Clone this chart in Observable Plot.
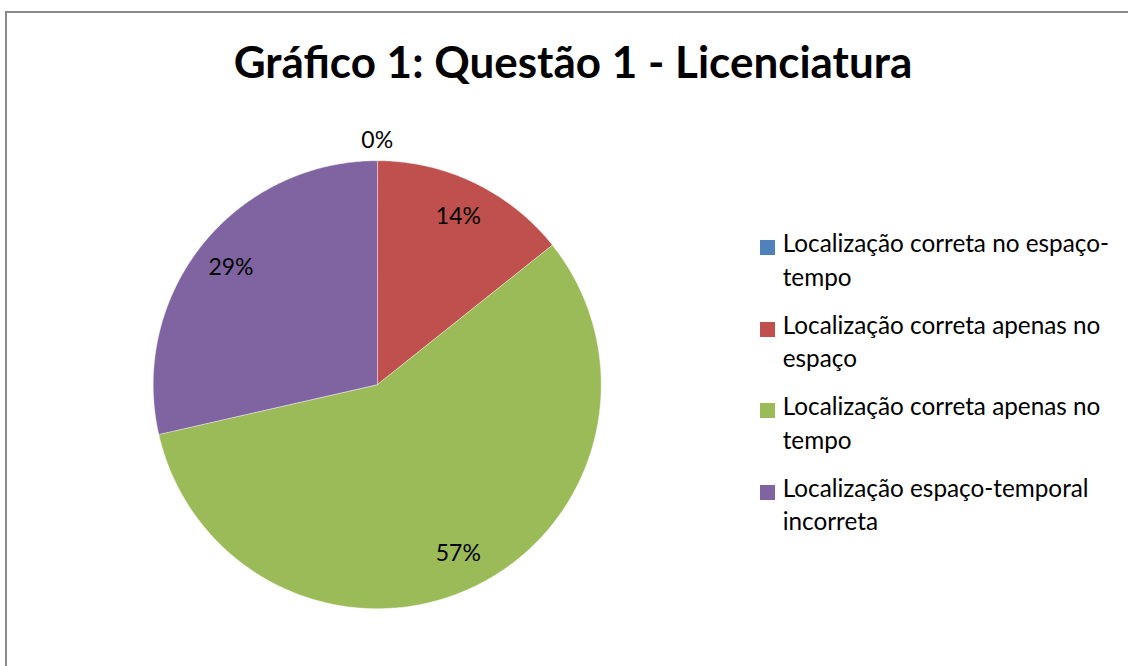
<!DOCTYPE html>
<html><head><meta charset="utf-8">
<script src="https://cdn.jsdelivr.net/npm/d3@7"></script>
<script src="https://cdn.jsdelivr.net/npm/@observablehq/plot@0.6"></script>
<style>
html,body{margin:0;padding:0;background:#fff;overflow:hidden;}
#chart{position:relative;width:1128px;height:666px;overflow:hidden;font-family:Lato,"Open Sans",sans-serif;color:#000;}
#frame{position:absolute;left:5px;top:11px;width:1200px;height:800px;border:2px solid #8a8a8a;box-sizing:border-box;}
#title{position:absolute;left:0;width:1146px;text-align:center;top:39px;font-size:44px;font-weight:bold;line-height:44px;white-space:nowrap;}
#plot{position:absolute;left:0;top:0;}
#plot svg{display:block;}
.item{position:absolute;left:760px;width:360px;}
.sw{position:absolute;left:0;top:14px;width:15px;height:15px;}
.tx{position:absolute;left:22.7px;top:0;width:340px;font-size:24.3px;line-height:33.5px;}
</style></head>
<body><div id="chart"><div id="frame"></div><div id="title"></div><div id="plot"></div><div id="legend"></div></div>
<script>
const chartTitle = "Gráfico 1: Questão 1 - Licenciatura";
const categories = [
  "Localização correta no espaço-tempo",
  "Localização correta apenas no espaço",
  "Localização correta apenas no tempo",
  "Localização espaço-temporal incorreta"
];
const shares = [0, 0.1429, 0.5714, 0.2857];
const colors = ["#4F81BD", "#C0504D", "#9BBB59", "#8064A2"];

const rows = categories.map((c, i) => ({category: c, value: shares[i]}));
const arcs = d3.pie().sort(null).value(d => d.value)(rows);

// slice outlines in unit-circle data space, drawn through Plot's x/y scales
const points = [];
for (const a of arcs) {
  const cat = a.data.category;
  const steps = Math.max(1, Math.ceil((a.endAngle - a.startAngle) / (Math.PI / 360)));
  points.push({category: cat, x: 0, y: 0});
  for (let i = 0; i <= steps; i++) {
    const t = a.startAngle + (a.endAngle - a.startAngle) * i / steps;
    points.push({category: cat, x: Math.sin(t), y: Math.cos(t)});
  }
}
const fmt = d3.format(".0%");
const labels = arcs.map(a => {
  const mid = (a.startAngle + a.endAngle) / 2;
  const r = a.data.value < 0.02 ? 1.09 : 0.835;
  return {x: r * Math.sin(mid), y: r * Math.cos(mid), label: fmt(a.data.value)};
});

document.getElementById("title").textContent = chartTitle;

const plot = Plot.plot({
  width: 1128, height: 666, margin: 0,
  x: {domain: [-1, 1], range: [152.7, 600.7], axis: null},
  y: {domain: [-1, 1], range: [608.2, 160.2], axis: null},
  color: {domain: categories, range: colors},
  style: {background: "transparent", fontFamily: "Lato, 'Open Sans', sans-serif"},
  marks: [
    Plot.line(points, {x: "x", y: "y", z: "category", fill: "category", stroke: "white", strokeWidth: 0.6, strokeOpacity: 0.7, curve: "linear-closed"}),
    Plot.text(labels, {x: "x", y: "y", text: "label", fontSize: 23, fill: "black"})
  ]
});
document.getElementById("plot").appendChild(plot);

const legend = document.getElementById("legend");
categories.forEach((c, i) => {
  const item = document.createElement("div");
  item.className = "item";
  item.style.top = (226.2 + 81.5 * i) + "px";
  const sw = document.createElement("div");
  sw.className = "sw";
  sw.style.background = colors[i];
  const tx = document.createElement("div");
  tx.className = "tx";
  tx.textContent = c;
  item.appendChild(sw);
  item.appendChild(tx);
  legend.appendChild(item);
});
</script>
</body></html>
